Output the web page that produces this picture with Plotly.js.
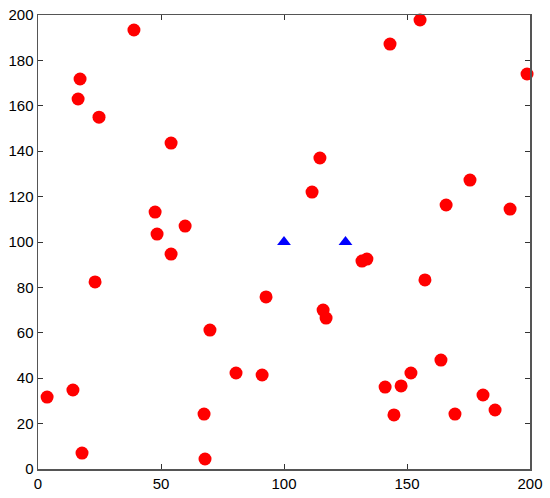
<!DOCTYPE html>
<html><head><meta charset="utf-8">
<script src="https://cdn.plot.ly/plotly-3.0.1.min.js"></script>
<style>body{margin:0;padding:0;background:#fff}#chart{width:550px;height:498px}</style>
</head><body><div id="chart"></div>
<script>
const redX = [3.7,14.2,17.9,23.2,17.1,16.3,24.8,39.0,54.1,47.6,48.4,59.8,54.1,69.9,67.5,67.9,80.5,91.1,92.7,111.4,114.6,115.9,117.1,131.7,133.7,143.1,155.3,198.8,175.6,165.9,191.9,157.3,141.1,147.6,151.6,144.7,163.8,169.5,180.9,185.8];
const redY = [31.7,34.8,7.0,82.4,171.8,163.0,155.0,193.4,143.6,113.2,103.5,107.0,94.7,61.2,24.2,4.4,42.3,41.4,75.8,122.0,137.0,70.0,66.5,91.6,92.5,187.2,197.8,174.0,127.3,116.3,114.5,83.3,36.1,36.6,42.3,23.8,48.0,24.2,32.6,26.0];
const blueX = [100,125];
const blueY = [100,100];
const xTicks = [0,50,100,150,200];
const yTicks = [0,20,40,60,80,100,120,140,160,180,200];

const traces = [
  {x: redX, y: redY, type:'scatter', mode:'markers', marker:{color:'#ff0000', size:13}, cliponaxis:false, showlegend:false},
  {x: blueX, y: blueY, type:'scatter', mode:'markers', marker:{color:'#0000ff', size:12, symbol:'triangle-up'}, cliponaxis:false, showlegend:false}
];
const axisCommon = {showgrid:false, zeroline:false, showline:true, linecolor:'#555', linewidth:1.5, mirror:'ticks', ticks:'inside', ticklen:5, tickcolor:'#333', tickfont:{family:'Liberation Sans, Arial, sans-serif', size:15, color:'#000'}};
const layout = {
  width:550, height:498,
  margin:{l:38, r:20, t:15, b:29},
  paper_bgcolor:'#fff', plot_bgcolor:'#fff',
  xaxis: Object.assign({range:[0,200], tickvals:xTicks, ticktext:xTicks.map(String)}, axisCommon),
  yaxis: Object.assign({range:[0,200], tickvals:yTicks, ticktext:yTicks.map(String)}, axisCommon)
};
Plotly.newPlot('chart', traces, layout, {displayModeBar:false, staticPlot:true});
</script></body></html>
